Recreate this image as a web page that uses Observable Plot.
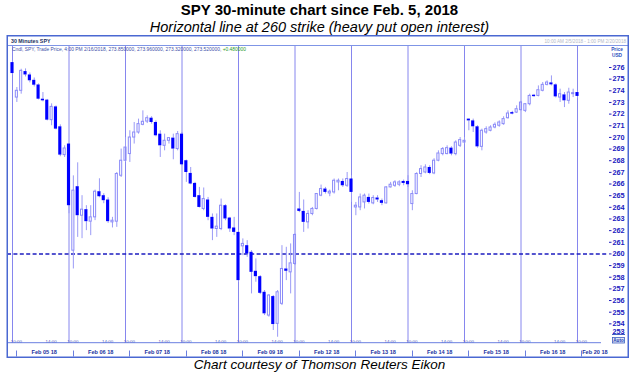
<!DOCTYPE html>
<html><head><meta charset="utf-8">
<script src="https://cdn.jsdelivr.net/npm/d3@7"></script>
<script src="https://cdn.jsdelivr.net/npm/@observablehq/plot@0.6"></script>
<style>
body{margin:0;background:#fff;width:639px;height:374px;overflow:hidden;font-family:"Liberation Sans",Arial,sans-serif;color:#000;}
#title{height:19px;line-height:19px;text-align:center;font-weight:bold;font-size:15px;}
#subtitle{height:16px;line-height:16px;text-align:center;font-style:italic;font-size:14.5px;}
#chart{height:323px;}
#chart svg{display:block;}
#caption{height:13px;line-height:13px;text-align:center;font-style:italic;font-size:13.5px;}
</style></head>
<body>
<div id="title">SPY 30-minute chart since Feb. 5, 2018</div>
<div id="subtitle">Horizontal line at 260 strike (heavy put open interest)</div>
<div id="chart"></div>
<div id="caption">Chart courtesy of Thomson Reuters Eikon</div>
<script>
// ---- data (30-minute bars) ----
const opens = [
276.42,273.42,274.0,275.65,275.36,274.9,274.5,273.28,273.2,271.48,
272.62,270.91,268.48,269.43,260.28,265.77,263.28,263.8,262.77,263.14,
265.34,265.0,264.63,262.71,262.77,266.71,268.0,268.57,269.99,270.42,
271.08,271.36,271.65,271.28,270.28,269.28,269.71,269.94,269.0,270.28,
268.0,266.91,266.05,265.0,263.86,264.63,263.14,262.14,262.14,264.14,
263.08,262.23,261.85,260.65,260.71,260.14,258.51,258.05,256.71,254.71,
256.34,254.0,255.72,258.71,258.42,259.14,263.86,263.65,262.71,263.43,
263.86,265.0,265.57,265.19,265.28,266.14,266.22,265.85,266.43,263.99,
263.99,264.42,264.85,264.34,264.8,264.57,264.34,265.71,265.85,265.94,
266.22,266.22,264.28,265.14,266.86,266.99,267.42,266.91,268.0,268.57,
268.57,269.08,268.57,269.28,269.56,271.57,271.42,270.91,269.19,270.42,
270.57,270.85,271.0,271.14,271.65,272.13,272.13,272.34,272.28,272.85,
273.62,273.56,274.0,274.51,274.68,274.51,273.42,273.65,273.14,273.71,
273.85];
const highs = [
276.56,274.28,275.85,275.88,275.53,275.1,274.59,273.85,273.26,272.88,
272.7,271.08,269.28,269.45,266.7,267.82,265.0,264.14,264.14,265.48,
266.45,265.17,264.82,263.14,266.99,269.0,269.99,270.57,271.28,271.57,
272.28,271.85,271.77,271.42,270.57,270.28,269.99,270.28,270.51,270.42,
268.05,267.42,266.14,265.71,265.66,264.85,263.43,263.43,264.71,264.22,
263.14,263.14,262.0,261.29,261.14,260.28,259.57,258.14,256.86,256.51,
256.43,256.86,260.71,260.57,260.86,261.71,265.28,264.63,263.71,263.99,
265.19,265.91,265.71,265.48,266.43,266.43,266.43,266.99,266.71,264.42,
265.14,265.14,265.14,265.0,265.0,264.71,265.77,266.14,266.28,266.28,
266.34,266.71,265.42,266.97,267.57,267.65,267.57,268.17,268.85,269.13,
269.28,269.19,269.71,269.99,269.99,271.59,271.57,271.0,270.71,270.91,
271.0,271.25,271.42,271.77,272.28,272.24,272.71,273.09,272.9,273.71,
273.69,274.42,274.71,274.85,275.28,274.59,274.14,273.85,274.22,274.14,
273.96];
const lows = [
275.37,273.0,273.71,275.19,274.68,274.33,273.22,273.05,271.42,271.0,
270.65,268.34,268.28,263.45,258.71,261.42,261.31,262.0,261.57,262.86,
264.82,264.31,262.62,262.23,262.28,266.56,267.85,267.85,269.43,270.28,
271.0,271.19,271.14,270.05,268.28,268.85,269.43,268.08,268.85,267.57,
266.14,265.94,264.8,263.94,263.71,262.85,261.14,261.42,262.0,262.85,
261.85,261.57,257.57,259.85,259.71,256.57,257.57,256.51,254.71,254.57,
253.43,252.85,255.57,257.71,256.57,259.0,263.54,261.85,262.14,263.28,
263.77,264.91,265.14,264.91,265.14,265.42,265.71,265.71,264.42,263.28,
263.71,263.86,264.28,264.22,264.42,264.14,264.28,265.66,265.71,265.77,
265.85,265.71,263.71,265.08,266.56,266.88,266.8,266.8,267.91,268.42,
268.51,268.42,268.42,269.13,269.43,270.57,270.42,269.08,268.85,270.28,
270.48,270.74,270.87,271.04,271.57,271.94,272.05,272.28,272.13,272.71,
273.44,273.48,273.91,274.42,274.42,273.39,273.0,272.56,272.85,273.42,
273.32];
const closes = [
275.48,274.0,275.71,275.36,274.86,274.48,273.28,273.14,271.48,272.62,
270.71,268.48,269.05,264.14,265.43,263.28,263.8,262.77,263.14,265.34,
264.91,264.57,262.77,262.85,266.86,268.0,269.13,269.99,270.42,271.14,
271.34,271.65,271.28,270.14,269.28,269.71,269.94,269.0,270.28,267.65,
266.99,266.0,264.85,263.99,264.71,263.14,262.14,262.34,264.14,263.0,
262.14,261.85,257.71,260.86,260.0,258.42,258.05,256.62,254.86,256.43,
253.94,256.71,258.71,258.51,259.19,261.63,263.65,262.71,263.43,263.86,
265.14,265.57,265.28,265.34,266.28,266.28,265.85,266.43,265.28,264.14,
264.85,265.0,264.42,264.8,264.63,264.34,265.71,265.94,266.14,266.14,
266.05,265.94,265.14,266.86,267.28,267.42,266.91,268.0,268.62,269.0,
269.08,268.57,269.56,269.77,269.71,271.42,270.91,269.19,270.57,270.71,
270.85,271.08,271.28,271.57,272.05,272.0,272.42,272.99,272.85,273.56,
273.5,274.05,274.51,274.71,274.51,273.48,273.71,273.14,273.85,273.8,
273.52];
const dayLabels = ["Feb 05 18","Feb 06 18","Feb 07 18","Feb 08 18","Feb 09 18","Feb 12 18","Feb 13 18","Feb 14 18","Feb 15 18","Feb 16 18","Feb 20 18"];
const priceTicks = [276,275,274,273,272,271,270,269,268,267,266,265,264,263,262,261,260,259,258,257,256,255,254,253];
const timeTickLabels = ["10:00","14:00"];
const strikeLevel = 260;
const headerTitle = "30 Minutes SPY";
const headerInfo = "Cndl, SPY, Trade Price, 4:00 PM 2/16/2018, 273.850000, 273.960000, 273.320000, 273.520000, ";
const headerChange = "+0.480000";
const rangeText = "10:00 AM 2/5/2018 - 1:00 PM 2/20/2018";
const BARS_PER_DAY = 13;

// ---- derived tables ----
const bars = opens.map((o,i)=>({i, open:o, high:highs[i], low:lows[i], close:closes[i], up: closes[i] >= o}));
const nDays = dayLabels.length;
const dayLines = dayLabels.map((_,d)=>d*BARS_PER_DAY);
const timeTicks = [];
dayLabels.forEach((_,d)=>{
  timeTicks.push({i: d*BARS_PER_DAY + 1, t: timeTickLabels[0], dx: d===0 ? 0 : -1.5});
  if (d < nDays-1) timeTicks.push({i: d*BARS_PER_DAY + 9, t: timeTickLabels[1], dx: -0.5});
});
const dayText = dayLabels.map((label,d)=>({label, pos: d < nDays-1 ? d*BARS_PER_DAY + 7.3 : d*BARS_PER_DAY + 4}));

const F = '"Liberation Sans", Arial, sans-serif';
const BLUE = "#0000ff", WICK = "#9a9af6", HOLLOW = "#8a8af8", DAYLINE = "#8686ee";
const DASH = "#1c1cc0", LABEL = "#2020c0", FRAME = "#4a68d2";

const chart = Plot.plot({
  width: 639, height: 323,
  marginTop: 10, marginBottom: 15.3, marginLeft: 7, marginRight: 31,
  x: {domain: [0, (nDays-1)*BARS_PER_DAY], range: [12, 577], axis: null},
  y: {domain: [253, 276], range: [300, 32], axis: null},
  style: {background: "white", overflow: "visible", fontFamily: F},
  marks: [
    Plot.ruleX(dayLines, {x: d=>d, stroke: DAYLINE, strokeWidth: 1}),
    Plot.ruleY([strikeLevel], {stroke: DASH, strokeWidth: 1.6, strokeDasharray: "4,2.4"}),
    Plot.ruleX(bars, {x: "i", y1: "high", y2: d=>Math.max(d.open,d.close), stroke: WICK, strokeWidth: 1}),
    Plot.ruleX(bars, {x: "i", y1: "low", y2: d=>Math.min(d.open,d.close), stroke: WICK, strokeWidth: 1}),
    Plot.rect(bars.filter(d=>d.up), {x1: d=>d.i-0.24, x2: d=>d.i+0.24, y1: "open", y2: "close", fill: "none", stroke: HOLLOW, strokeWidth: 1}),
    Plot.rect(bars.filter(d=>!d.up), {x1: d=>d.i-0.36, x2: d=>d.i+0.36, y1: "open", y2: "close", fill: BLUE}),
    Plot.axisY(priceTicks.filter(v=>v>253), {anchor: "right", tickSize: 2.5, tickPadding: 1.5, color: LABEL, fontSize: 7.3, fontWeight: "bold", fontFamily: F, label: null}),
    Plot.text(priceTicks.filter(v=>v===253), {y: d=>d, text: d=>String(d), frameAnchor: "right", dx: 4, dy: -4, textAnchor: "start", fill: LABEL, fontSize: 7.3, fontWeight: "bold", fontFamily: F}),
    Plot.text(timeTicks, {x: "i", text: "t", dx: "dx", frameAnchor: "bottom", dy: 3.9, fill: "#4a5ab8", fontSize: 4.4, fontFamily: F}),
    Plot.text(dayText, {x: "pos", text: "label", frameAnchor: "bottom", dy: 10.9, fill: "#22339f", fontSize: 5.6, fontWeight: "bold", fontFamily: F})
  ]
});
document.getElementById("chart").appendChild(chart);

// ---- panel decorations ----
const xs = chart.scale("x");
const svg = d3.select(chart);
const deco = svg.append("g").attr("text-anchor", "start");
deco.append("line").attr("x1",7).attr("x2",628).attr("y1",10.5).attr("y2",10.5).attr("stroke","#7f95e6").attr("stroke-width",1);
deco.append("line").attr("x1",7).attr("x2",601).attr("y1",307.7).attr("y2",307.7).attr("stroke","#6a7fe0").attr("stroke-width",1);
dayLines.forEach((_,d)=>{
  const x = Math.round(xs.apply(d*BARS_PER_DAY + 1)) + 0.5;
  deco.append("line").attr("x1",x).attr("x2",x).attr("y1",315.5).attr("y2",321.5).attr("stroke","#6a7fe0");
});
deco.append("text").attr("x",11).attr("y",7.8).attr("text-anchor","start").attr("font-family",F).attr("font-size",5.3).attr("font-weight","bold").attr("fill","#203060").text(headerTitle);
const info = deco.append("text").attr("x",12).attr("y",15.8).attr("text-anchor","start").attr("font-family",F).attr("font-size",4.9).attr("fill","#4050a8");
info.append("tspan").text(headerInfo);
info.append("tspan").attr("fill","#2a9a2a").text(headerChange);
deco.append("text").attr("x",626).attr("y",8).attr("text-anchor","end").attr("font-family",F).attr("font-size",4.6).attr("fill","#b4b8c8").text(rangeText);
deco.append("text").attr("x",617).attr("y",15.5).attr("text-anchor","middle").attr("font-family",F).attr("font-size",4.8).attr("font-weight","bold").attr("fill","#3050c0").text("Price");
deco.append("text").attr("x",617).attr("y",21.5).attr("text-anchor","middle").attr("font-family",F).attr("font-size",4.8).attr("font-weight","bold").attr("fill","#3050c0").text("USD");
deco.append("line").attr("x1",612).attr("x2",625).attr("y1",299.5).attr("y2",299.5).attr("stroke","#4060c0");
deco.append("rect").attr("x",612.5).attr("y",302.5).attr("width",12).attr("height",5.5).attr("fill","#dfe5f8").attr("stroke","#4060c0").attr("stroke-width",0.8);
deco.append("text").attr("x",618.5).attr("y",307).attr("text-anchor","middle").attr("font-family",F).attr("font-size",4.6).attr("font-weight","bold").attr("fill","#2040b0").text("Auto");
deco.append("rect").attr("x",7.25).attr("y",0.75).attr("width",621).attr("height",321.5).attr("fill","none").attr("stroke",FRAME).attr("stroke-width",1.5);
</script>
</body></html>
